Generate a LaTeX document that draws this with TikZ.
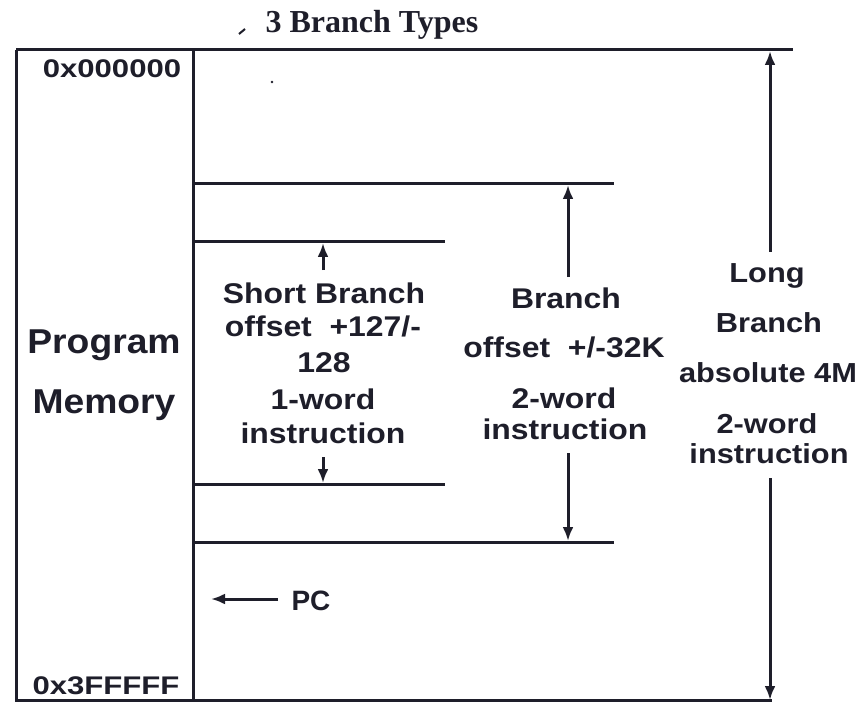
\documentclass[tikz,border=0pt]{standalone}
\usepackage{fontspec}
\setmainfont{Liberation Sans}
\newfontfamily\titlefont{Liberation Serif}
\newfontfamily\wideA[FakeStretch=1.22]{Liberation Sans}
\newfontfamily\wideB[FakeStretch=1.12]{Liberation Sans}
\newfontfamily\wideC[FakeStretch=1.08]{Liberation Sans}
\usetikzlibrary{arrows.meta}
\definecolor{ink}{RGB}{30,30,42}
\tikzset{
  ln/.style={draw=ink, line width=3pt},
  arr/.style={draw=ink, line width=3pt, -{Latex[length=14pt,width=11pt]}},
  txt/.style={anchor=base, inner sep=0pt, text=ink, font=\bfseries},
  shortlbl/.style={txt, font=\wideB\bfseries\fontsize{28.5}{32}\selectfont},
  brlbl/.style={txt, font=\wideB\bfseries\fontsize{28.5}{32}\selectfont},
  longlbl/.style={txt, font=\wideB\bfseries\fontsize{27.5}{32}\selectfont},
  memlbl/.style={txt, font=\wideC\bfseries\fontsize{34.5}{38}\selectfont},
  addrlbl/.style={txt, font=\wideA\bfseries\fontsize{25.5}{30}\selectfont},
}
\begin{document}
\begin{tikzpicture}[x=1pt,y=-1pt]
\useasboundingbox[fill=white] (0,0) rectangle (864,703);
% key coordinates
\coordinate (TL) at (16,50);
\coordinate (TR) at (793,50);
\coordinate (BL) at (16,700);
\coordinate (BR) at (772,700);
\coordinate (CT) at (193,50);
\coordinate (CB) at (193,700);
\coordinate (b1L) at (193,184);
\coordinate (b1R) at (614,184);
\coordinate (s1L) at (193,242);
\coordinate (s1R) at (445,242);
\coordinate (s2L) at (193,484);
\coordinate (s2R) at (445,484);
\coordinate (b2L) at (193,542);
\coordinate (b2R) at (614,542);
% frame
\draw[ln] (TL) -- (TR);
\draw[ln] (TL) -- (BL) -- (BR);
\draw[ln] (CT) -- (CB);
\draw[ln] (b1L) -- (b1R);
\draw[ln] (s1L) -- (s1R);
\draw[ln] (s2L) -- (s2R);
\draw[ln] (b2L) -- (b2R);
% title
\node[anchor=base, inner sep=0pt, text=ink, font=\titlefont\bfseries\fontsize{32}{36}\selectfont] (title) at (372,33) {3 Branch Types};
\coordinate (mk1) at (239,34);
\coordinate (mk2) at (245,29);
\draw[draw=ink, line width=2pt] (mk1) -- (mk2);
\fill[ink] (272,82) circle (1.4pt);
% left column
\node[addrlbl] (a0) at (112,78) {0x000000};
\node[addrlbl] (a1) at (106,694) {0x3FFFFF};
\node[memlbl] (m1) at (104,353) {Program};
\node[memlbl] (m2) at (104,413) {Memory};
% short branch
\node[shortlbl] (s1) at (324,303) {Short Branch};
\node[shortlbl] (s2) at (323,336) {offset\ \ +127/-};
\node[shortlbl] (s3) at (324,372) {128};
\node[shortlbl] (s4) at (323,409) {1-word};
\node[shortlbl] (s5) at (323,443) {instruction};
\coordinate (sa1) at (323,270);
\coordinate (sa1e) at (323,243);
\coordinate (sa2) at (323,457);
\coordinate (sa2e) at (323,483);
\draw[arr] (sa1) -- (sa1e);
\draw[arr] (sa2) -- (sa2e);
% branch
\node[brlbl] (r1) at (566,308) {Branch};
\node[brlbl] (r2) at (564,357) {offset\ \ +/-32K};
\node[brlbl] (r3) at (564,408) {2-word};
\node[brlbl] (r4) at (565,439) {instruction};
\coordinate (ra1) at (568,277);
\coordinate (ra1e) at (568,185);
\coordinate (ra2) at (568,453);
\coordinate (ra2e) at (568,541);
\draw[arr] (ra1) -- (ra1e);
\draw[arr] (ra2) -- (ra2e);
% long branch
\node[longlbl] (l1) at (767,283) {Long};
\node[longlbl] (l2) at (769,332) {Branch};
\node[longlbl] (l3) at (768,382) {absolute 4M};
\node[longlbl] (l4) at (767,433) {2-word};
\node[longlbl] (l5) at (769,463) {instruction};
\coordinate (la1) at (770,252);
\coordinate (la1e) at (770,51);
\coordinate (la2) at (770,478);
\coordinate (la2e) at (770,700);
\draw[arr] (la1) -- (la1e);
\draw[arr] (la2) -- (la2e);
% PC
\node[txt, font=\bfseries\fontsize{28}{32}\selectfont] (pc) at (311,610) {PC};
\coordinate (pcs) at (278,599);
\coordinate (pce) at (211,599);
\draw[arr] (pcs) -- (pce);
\end{tikzpicture}
\end{document}
